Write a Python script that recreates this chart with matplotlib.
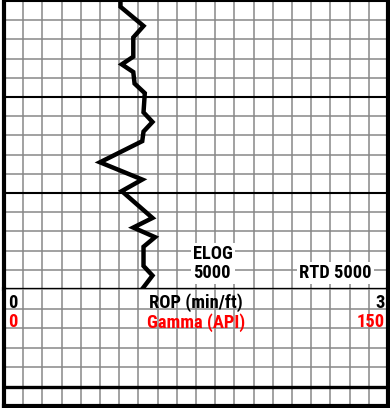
import numpy as np
import matplotlib
matplotlib.use("Agg")
import matplotlib.pyplot as plt

plt.rcParams['font.family'] = ['Roboto Condensed', 'Liberation Sans', 'DejaVu Sans']
plt.rcParams['font.weight'] = 'bold'

# ROP log, 4850-5000 ft
depth = [4850, 4853, 4863, 4869, 4879, 4883, 4887, 4893, 4898, 4908, 4913, 4918,
         4923, 4934, 4943, 4949, 4963, 4968, 4973, 4978, 4988, 4993, 5000]
rop = [0.91, 0.91, 1.09, 1.01, 1.01, 0.92, 1.01, 1.02, 1.10, 1.09, 1.16, 1.09,
       1.08, 0.75, 1.08, 0.92, 1.16, 1.01, 1.18, 1.09, 1.09, 1.16, 1.08]

rop_range = (0, 3)
gamma_range = (0, 150)
top_depth, bottom_depth = 4850, 5000
markers = {"ELOG": 5000, "RTD": 5000}

grid_gray = '#878787'
fs = 13.3

fig = plt.figure(figsize=(3.9, 4.08), dpi=100)
W, H = 390, 408
ax = fig.add_axes([4 / W, 1 - 289 / H, 384 / W, 288 / H])
hdr = fig.add_axes([4 / W, 2 / H, 384 / W, (406 - 289) / H])

xt = np.linspace(rop_range[0], rop_range[1], 21)

# log track
ax.set_xlim(*rop_range)
ax.set_ylim(bottom_depth, top_depth)
ax.set_xticks(xt)
ax.set_yticks(np.arange(top_depth, bottom_depth + 1, 10))
ax.grid(True, color=grid_gray, lw=1.1)
ax.set_axisbelow(True)
ax.tick_params(length=0, labelleft=False, labelbottom=False)
for d in (4900, 4950):
    ax.axhline(d, color='black', lw=1.5, zorder=2)
ax.plot(rop, depth, color='black', lw=3.2, solid_joinstyle='miter', zorder=3)

# depth markers (baseline of the last line sits at the given depth)
ax.text(1.475, 4994.3, "ELOG\n%d" % markers["ELOG"], ha='left', va='baseline',
        fontsize=fs, fontweight='bold', zorder=4, linespacing=1.05,
        bbox=dict(facecolor='white', edgecolor='none', pad=1.5))
ax.text(2.873, 4994.3, "RTD %d" % markers["RTD"], ha='right', va='baseline',
        fontsize=fs, fontweight='bold', zorder=4,
        bbox=dict(facecolor='white', edgecolor='none', pad=1.5))

ax.spines['top'].set_linewidth(1.5)
ax.spines['bottom'].set_linewidth(2.4)
for s in ('left', 'right'):
    ax.spines[s].set_linewidth(3)

# header
hdr.set_xlim(*rop_range)
hdr.set_ylim(6, 0)
hdr.set_xticks(xt)
hdr.set_yticks(np.arange(0, 7, 1))
hdr.grid(True, color=grid_gray, lw=1.1)
hdr.set_axisbelow(True)
hdr.tick_params(length=0, labelleft=False, labelbottom=False)
hdr.axhline(5, color='black', lw=2.4)
hdr.spines['top'].set_visible(False)
for s in ('left', 'right', 'bottom'):
    hdr.spines[s].set_linewidth(3)

hdr.text(0.03, 0.97, "%d" % rop_range[0], ha='left', va='baseline', fontsize=fs)
hdr.text(1.5, 0.97, "ROP (min/ft)", ha='center', va='baseline', fontsize=fs)
hdr.text(2.975, 0.97, "%d" % rop_range[1], ha='right', va='baseline', fontsize=fs)
hdr.text(0.03, 1.97, "%d" % gamma_range[0], ha='left', va='baseline', fontsize=fs, color='red')
hdr.text(1.5, 1.97, "Gamma (API)", ha='center', va='baseline', fontsize=fs, color='red')
hdr.text(2.975, 1.97, "%d" % gamma_range[1], ha='right', va='baseline', fontsize=fs, color='red')

fig.savefig("out.png", dpi=100)
